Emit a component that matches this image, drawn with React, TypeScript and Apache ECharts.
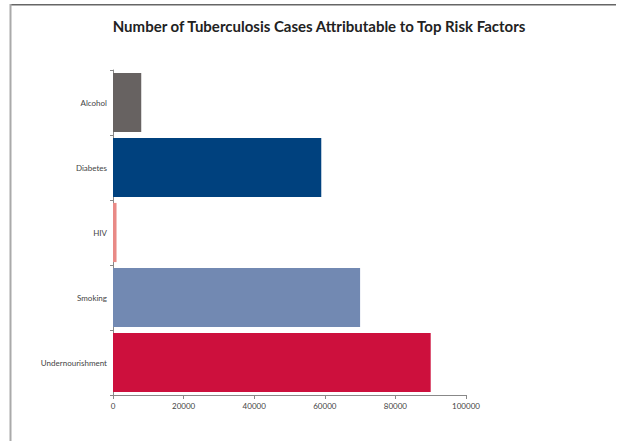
import React, { useEffect, useRef } from "react";
import * as echarts from "echarts";

const categories = ["Alcohol", "Diabetes", "HIV", "Smoking", "Undernourishment"];
const values = [8000, 59000, 1000, 70000, 90000];
const colors = ["#676261", "#00417e", "#e98a86", "#7289b2", "#cd103d"];
const xTicks = [0, 20000, 40000, 60000, 80000, 100000];

export default function App() {
  const ref = useRef<HTMLDivElement>(null);
  useEffect(() => {
    if (!ref.current) return;
    const chart = echarts.init(ref.current, null, { renderer: "svg" });
    chart.setOption({
      animation: false,
      backgroundColor: "#ffffff",
      title: {
        text: "Number of Tuberculosis Cases Attributable to Top Risk Factors",
        left: 314,
        top: 13,
        textAlign: "center",
        textStyle: { fontFamily: "Lato", fontWeight: "bold", fontSize: 15, color: "#222" },
      },
      graphic: [
        { type: "rect", shape: { x: 10, y: 4, width: 606, height: 1.5 }, style: { fill: "#666" } },
        { type: "rect", shape: { x: 9.5, y: 4, width: 2, height: 437 }, style: { fill: "#aaa" } },
      ],
      grid: { left: 113, right: 152, top: 70, bottom: 46, containLabel: false },
      xAxis: {
        type: "value",
        min: xTicks[0],
        max: xTicks[xTicks.length - 1],
        interval: 20000,
        splitLine: { show: false },
        axisLine: { show: true, lineStyle: { color: "#888" } },
        axisTick: { show: true, length: 4, lineStyle: { color: "#888" } },
        axisLabel: {
          fontFamily: "Lato",
          fontSize: 8,
          color: "#444",
          margin: 7,
          formatter: (v: number) => String(v),
        },
      },
      yAxis: {
        type: "category",
        data: categories,
        inverse: true,
        axisLine: { show: true, lineStyle: { color: "#888" } },
        axisTick: { show: true, length: 3, lineStyle: { color: "#888" } },
        axisLabel: { fontFamily: "Lato", fontSize: 8, color: "#444", margin: 6 },
      },
      series: [
        {
          type: "bar",
          data: values.map((v, i) => ({ value: v, itemStyle: { color: colors[i] } })),
          barCategoryGap: "9%",
        },
      ],
    });
    return () => chart.dispose();
  }, []);
  return (
    <div
      ref={ref}
      style={{ position: "fixed", left: 0, top: 0, width: 618, height: 441 }}
    />
  );
}
